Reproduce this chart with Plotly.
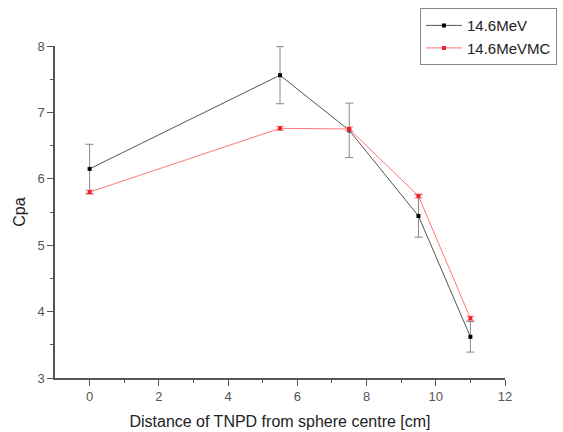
import plotly.graph_objects as go

x_vals = [0, 5.5, 7.5, 9.5, 11]
meas = [6.15, 7.56, 6.73, 5.44, 3.62]
meas_err = [0.37, 0.43, 0.41, 0.32, 0.23]
mc = [5.80, 6.76, 6.75, 5.74, 3.90]
mc_err = [0.03, 0.03, 0.03, 0.03, 0.03]

fig = go.Figure()
fig.add_trace(go.Scatter(
    x=x_vals, y=meas, name="14.6MeV", mode="lines+markers",
    line=dict(color="#555555", width=1),
    marker=dict(color="black", size=4, symbol="square"),
    error_y=dict(type="data", array=meas_err, color="#888888", thickness=1, width=4),
))
fig.add_trace(go.Scatter(
    x=x_vals, y=mc, name="14.6MeVMC", mode="lines+markers",
    line=dict(color="#ff7777", width=1),
    marker=dict(color="#e8242e", size=4, symbol="square"),
    error_y=dict(type="data", array=mc_err, color="#ff7777", thickness=1, width=4),
))

fig.update_layout(
    width=563, height=432,
    margin=dict(l=55, r=58, t=46, b=54, autoexpand=False),
    paper_bgcolor="white", plot_bgcolor="white",
    font=dict(family="Liberation Sans, Arial, sans-serif", color="#333333"),
    showlegend=True,
    legend=dict(x=0.811, y=1.114, xref="paper", yref="paper", xanchor="left", yanchor="top",
                bordercolor="#888888", borderwidth=1, bgcolor="white",
                font=dict(size=15, color="#222222"), tracegroupgap=0, itemwidth=36),
    xaxis=dict(range=[-1, 12], tickvals=[0, 2, 4, 6, 8, 10, 12],
               showgrid=False, zeroline=False, showline=True, linecolor="#555555", linewidth=1.5,
               ticks="outside", ticklen=6, tickcolor="#555555",
               minor=dict(tickvals=[1, 3, 5, 7, 9, 11], ticks="outside", ticklen=3, tickcolor="#555555"),
               tickfont=dict(size=13, color="#555555"),
               title=dict(text="Distance of TNPD from sphere centre [cm]", font=dict(size=16, color="#222222"), standoff=12)),
    yaxis=dict(range=[3, 8], tickvals=[3, 4, 5, 6, 7, 8],
               showgrid=False, zeroline=False, showline=True, linecolor="#555555", linewidth=1.5,
               ticks="outside", ticklen=6, tickcolor="#555555",
               minor=dict(tickvals=[3.5, 4.5, 5.5, 6.5, 7.5], ticks="outside", ticklen=3, tickcolor="#555555"),
               tickfont=dict(size=13, color="#555555"),
               title=dict(text="Cpa", font=dict(size=16, color="#222222"), standoff=8)),
)
fig.write_html("out.html")
